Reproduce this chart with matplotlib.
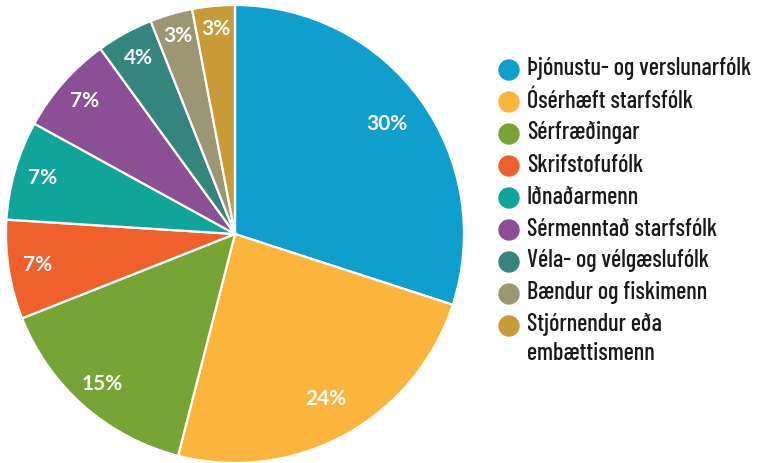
import matplotlib
matplotlib.use("Agg")
import matplotlib.pyplot as plt
from matplotlib.patches import Ellipse
import numpy as np

categories = ["Þjónustu- og verslunarfólk", "Ósérhæft starfsfólk", "Sérfræðingar",
              "Skrifstofufólk", "Iðnaðarmenn", "Sérmenntað starfsfólk",
              "Véla- og vélgæslufólk", "Bændur og fiskimenn",
              "Stjórnendur eða\nembættismenn"]
values = [30, 24, 15, 7, 7, 7, 4, 3, 3]
colors = ["#0f9fcf", "#fbb43c", "#77a535", "#f0602c", "#10a59a", "#8a4f95",
          "#35857f", "#9c9672", "#c89a38"]

W, H = 760, 463
fig = plt.figure(figsize=(W / 100, H / 100), dpi=100)
cx, cy, r = 235, 234, 229
ax = fig.add_axes([(cx - r) / W, (H - cy - r) / H, 2 * r / W, 2 * r / H])
wedges, _ = ax.pie(values, colors=colors, startangle=90, counterclock=False,
                   wedgeprops=dict(edgecolor="white", linewidth=1.6))
ax.set_xlim(-1.0, 1.0)
ax.set_ylim(-1.0, 1.0)
ax.set_aspect("equal")
for w, v in zip(wedges, values):
    ang = np.deg2rad((w.theta1 + w.theta2) / 2)
    rr = 0.82 if v > 20 else (0.875 if v > 3 else 0.9)
    ax.text(rr * np.cos(ang), rr * np.sin(ang), f"{v}%", ha="center", va="center",
            color="white", fontsize=15, fontweight="bold",
            family=["Lato", "DejaVu Sans"])

# legend
y0, dy = 70, 32
for i, (lab, col) in enumerate(zip(categories, colors)):
    y = y0 + dy * i
    fig.add_artist(Ellipse((509 / W, 1 - y / H), 20 / W, 20 / H, color=col,
                           transform=fig.transFigure))
    fig.text(527 / W, 1 - (y - 12.5) / H, lab, ha="left", va="top", fontsize=17.5,
             family=["Barlow Condensed", "DejaVu Sans"], fontweight="medium",
             color="#1a1a1a", linespacing=1.3)

fig.savefig("out.png", dpi=100)
